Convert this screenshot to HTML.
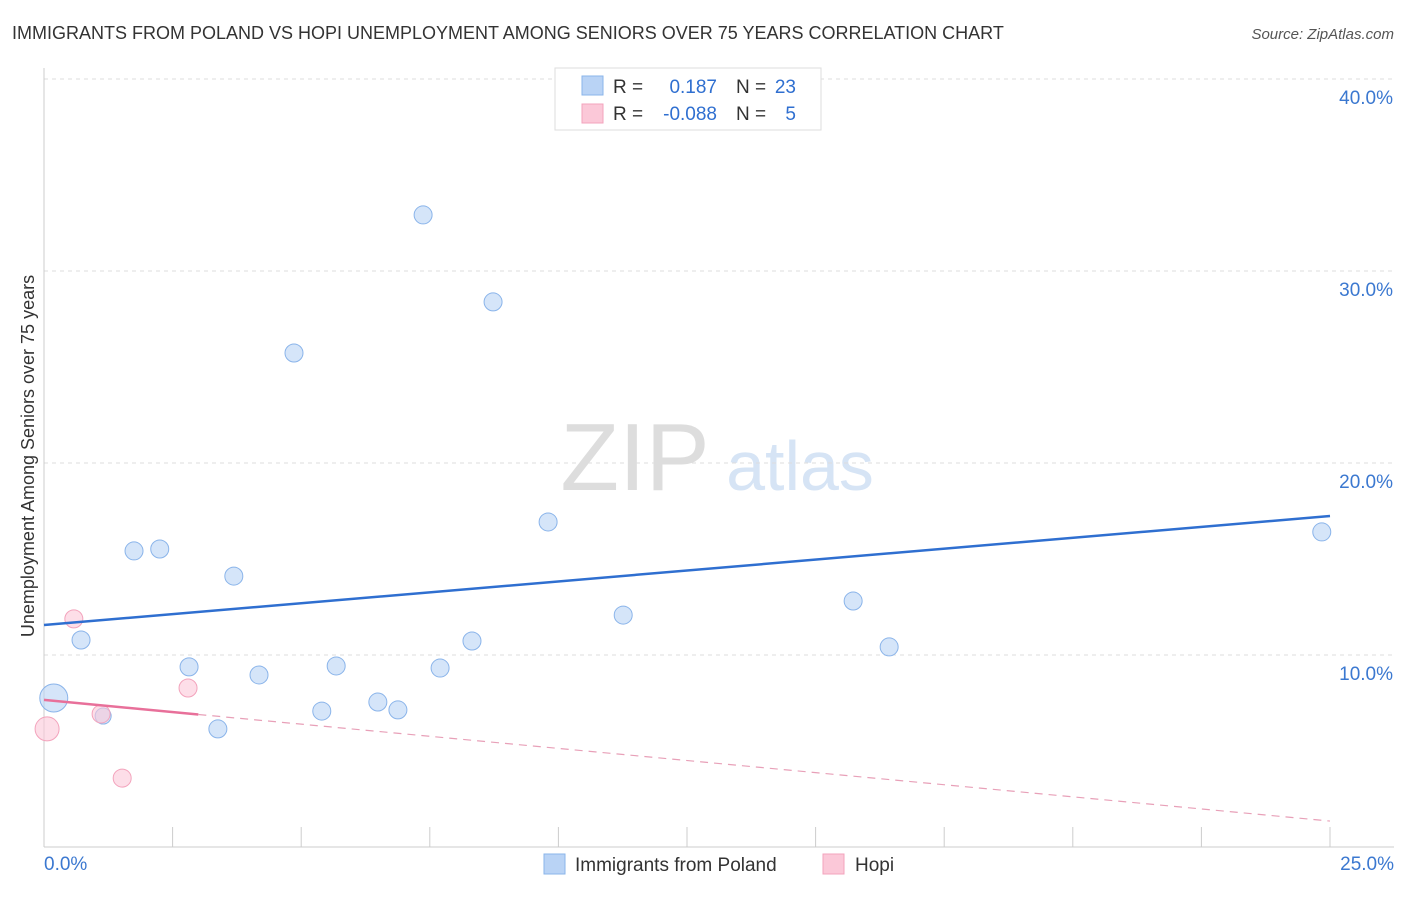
<!DOCTYPE html>
<html><head><meta charset="utf-8">
<style>
body{margin:0;background:#fff;font-family:"Liberation Sans",sans-serif;}
svg text{font-family:"Liberation Sans",sans-serif;}
</style></head>
<body>
<svg id="chart" width="1406" height="892" xmlns="http://www.w3.org/2000/svg">
<text x="12" y="39" font-size="18" fill="#333">IMMIGRANTS FROM POLAND VS HOPI UNEMPLOYMENT AMONG SENIORS OVER 75 YEARS CORRELATION CHART</text>
<text x="1394" y="39" font-size="15" fill="#555" text-anchor="end" font-style="italic">Source: ZipAtlas.com</text>
<text x="635" y="490" font-size="96" fill="#ddd" font-family="Liberation Serif" text-anchor="middle">ZIP</text>
<text x="800" y="490" font-size="70" fill="#d6e4f5" text-anchor="middle">atlas</text>
<g id="grid"></g>
<g id="axes"></g>
<text transform="translate(34,456) rotate(-90)" font-size="18" fill="#333" text-anchor="middle">Unemployment Among Seniors over 75 years</text>
<g id="marks"></g>
<g>
<rect x="555" y="68" width="266" height="62" fill="#fff" stroke="#ddd"/>
<rect x="582" y="76" width="21" height="19" fill="#b9d3f5" stroke="#8ab4ea"/>
<rect x="582" y="104" width="21" height="19" fill="#fbc8d8" stroke="#f3a3bc"/>
<text x="613" y="93" font-size="19" fill="#333">R =</text>
<text x="717" y="93" font-size="19" fill="#2f6fd0" text-anchor="end">0.187</text>
<text x="736" y="93" font-size="19" fill="#333">N =</text>
<text x="796" y="93" font-size="19" fill="#2f6fd0" text-anchor="end">23</text>
<text x="613" y="120" font-size="19" fill="#333">R =</text>
<text x="717" y="120" font-size="19" fill="#2f6fd0" text-anchor="end">-0.088</text>
<text x="736" y="120" font-size="19" fill="#333">N =</text>
<text x="796" y="120" font-size="19" fill="#2f6fd0" text-anchor="end">5</text>
</g>
<g>
<rect x="544" y="854" width="21" height="20" fill="#b9d3f5" stroke="#8ab4ea"/>
<text x="575" y="871" font-size="19" fill="#333">Immigrants from Poland</text>
<rect x="823" y="854" width="21" height="20" fill="#fbc8d8" stroke="#f3a3bc"/>
<text x="855" y="871" font-size="19" fill="#333">Hopi</text>
</g>
</svg>
<script>
const polandX=[0.19,0.72,1.15,1.75,2.25,2.82,3.38,3.69,4.18,4.86,5.40,5.68,6.49,6.88,7.37,7.70,8.32,8.73,9.80,11.26,15.73,16.43,24.84];
const polandY=[7.76,10.78,6.82,15.42,15.52,9.38,6.15,14.11,8.96,25.73,7.08,9.43,7.55,7.14,32.92,9.32,10.73,28.39,16.93,12.08,12.81,10.42,16.41];
const polandR=[14,9,8,9,9,9,9,9,9,9,9,9,9,9,9,9,9,9,9,9,9,9,9];
const hopiX=[0.06,0.58,1.11,2.80,1.52];
const hopiY=[6.15,11.88,6.93,8.28,3.59];
const hopiR=[12,9,9,9,9];
const polandTrend=[11.56,17.24];
const hopiTrend=[7.66,1.35];
const yTicks=[10,20,30,40];
const yTickLabels=["10.0%","20.0%","30.0%","40.0%"];
const xTicks=[0,2.5,5,7.5,10,12.5,15,17.5,20,22.5,25];
const NS="http://www.w3.org/2000/svg";
const sx=v=>44+v/25*1286;
const sy=v=>847-v/10*192;
function mk(tag,attrs,parent){const e=document.createElementNS(NS,tag);for(const k in attrs)e.setAttribute(k,attrs[k]);document.getElementById(parent).appendChild(e);return e;}
yTicks.forEach((t,i)=>{
 const l=mk('line',{x1:44,x2:1394,y1:sy(t),y2:sy(t),stroke:'#ddd','stroke-dasharray':'4,4'},'grid');
 
 
 const tx=mk('text',{x:1393,y:sy(t)+25,'font-size':19,fill:'#3b78d0','text-anchor':'end'},'axes');
 tx.textContent=yTickLabels[i];
 
 
});
const ax=mk('line',{x1:44,x2:44,y1:68,y2:847,stroke:'#ccc'},'axes');


const bx=mk('line',{x1:44,x2:1394,y1:847,y2:847,stroke:'#ccc'},'axes');


xTicks.forEach(t=>{
 const l=mk('line',{x1:sx(t),x2:sx(t),y1:827,y2:847,stroke:'#ccc'},'axes');
 
 
});
const xl0=mk('text',{x:44,y:870,'font-size':19,fill:'#3b78d0'},'axes');xl0.textContent='0.0%';


const xl1=mk('text',{x:1394,y:870,'font-size':19,fill:'#3b78d0','text-anchor':'end'},'axes');xl1.textContent='25.0%';


polandX.forEach((x,i)=>{
 const c=mk('circle',{cx:sx(x),cy:sy(polandY[i]),r:polandR[i],fill:'#b9d3f5','fill-opacity':0.6,stroke:'#8ab4ea'},'marks');
 
 
});
hopiX.forEach((x,i)=>{
 const c=mk('circle',{cx:sx(x),cy:sy(hopiY[i]),r:hopiR[i],fill:'#fbc8d8','fill-opacity':0.6,stroke:'#f3a3bc'},'marks');
 
 
});
const pl=mk('line',{x1:sx(0),y1:sy(polandTrend[0]),x2:sx(25),y2:sy(polandTrend[1]),stroke:'#2f6fd0','stroke-width':2.5},'marks');


const hs=3;
const hy=hopiTrend[0]+(hopiTrend[1]-hopiTrend[0])*hs/25;
const hl=mk('line',{x1:sx(0),y1:sy(hopiTrend[0]),x2:sx(hs),y2:sy(hy),stroke:'#e8709a','stroke-width':2.5},'marks');


const hd=mk('line',{x1:sx(hs),y1:sy(hy),x2:sx(25),y2:sy(hopiTrend[1]),stroke:'#e8a0b8','stroke-width':1.2,'stroke-dasharray':'8,6'},'marks');


</script>
</body></html>
